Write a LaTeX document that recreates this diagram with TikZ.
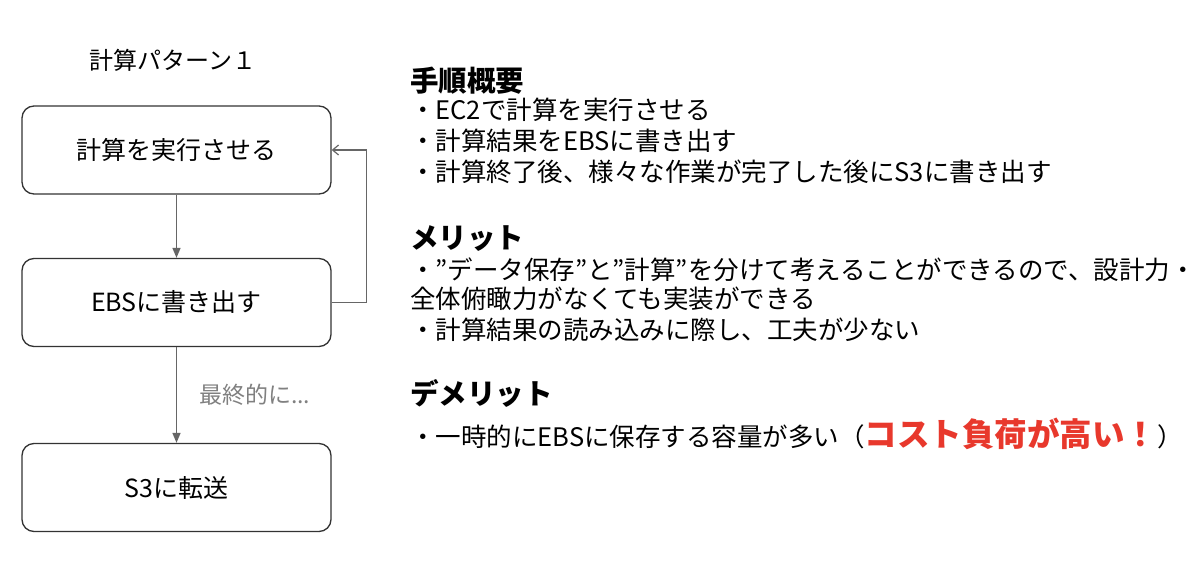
\documentclass[tikz,border=0pt]{standalone}
\usepackage{fontspec}
\setmainfont{Noto Sans CJK JP}
\usetikzlibrary{arrows.meta}
\definecolor{alert}{RGB}{232,56,44}
\definecolor{edge}{RGB}{51,51,51}
\definecolor{wire}{RGB}{102,102,102}
\definecolor{note}{RGB}{128,128,128}
\begin{document}
\begin{tikzpicture}[x=1pt,y=-1pt,
  box/.style={draw=edge, line width=1.3pt, rounded corners=12pt, minimum width=309pt, minimum height=88pt, inner sep=0pt, font=\fontsize{25}{30}\selectfont},
  flow/.style={draw=wire, line width=1.4pt, -{Triangle[length=10pt,width=8pt]}},
  back/.style={draw=wire, line width=1.2pt, -{Straight Barb[length=6pt,width=10pt]}},
  body/.style={anchor=base west, inner sep=0pt, font=\fontsize{25.5}{30}\selectfont},
  head/.style={anchor=base west, inner sep=0pt, font=\fontsize{28.5}{34}\selectfont\bfseries}]
\useasboundingbox[fill=white] (0,0) rectangle (1200,565);

\node[inner sep=0pt, font=\fontsize{24}{28}\selectfont] (title) at (173,60) {計算パターン１};
\node[box] (b1) at (176.5,150) {計算を実行させる};
\node[box] (b2) at (176.5,302.5) {EBSに書き出す};
\node[box] (b3) at (176.5,487.5) {S3に転送};

\draw[flow] (b1.south) -- (b2.north);
\draw[flow] (b2.south) -- node[pos=0.5, right=22pt, inner sep=0pt, text=note, font=\fontsize{23}{27}\selectfont] (lbl) {最終的に...} (b3.north);
\draw[back] (b2.east) -- ++(35,0) |- (b1.east);

\node[head] (h1) at (410,91) {手順概要};
\node[body] (t1) at (410,119.5) {・EC2で計算を実行させる};
\node[body] (t2) at (410,150.5) {・計算結果をEBSに書き出す};
\node[body] (t3) at (410,181.5) {・計算終了後、様々な作業が完了した後にS3に書き出す};

\node[head] (h2) at (410,248) {メリット};
\node[body] (m1) at (410,279.5) {・”データ保存”と”計算”を分けて考えることができるので、設計力・};
\node[body] (m2) at (410,308.5) {全体俯瞰力がなくても実装ができる};
\node[body] (m3) at (410,339.5) {・計算結果の読み込みに際し、工夫が少ない};

\node[head] (h3) at (410,404) {デメリット};
\node[body] (d1) at (410,446.5) {・一時的にEBSに保存する容量が多い（{\color{alert}\bfseries\fontsize{32.5}{38}\selectfont コスト負荷が高い！}）};
\end{tikzpicture}
\end{document}
